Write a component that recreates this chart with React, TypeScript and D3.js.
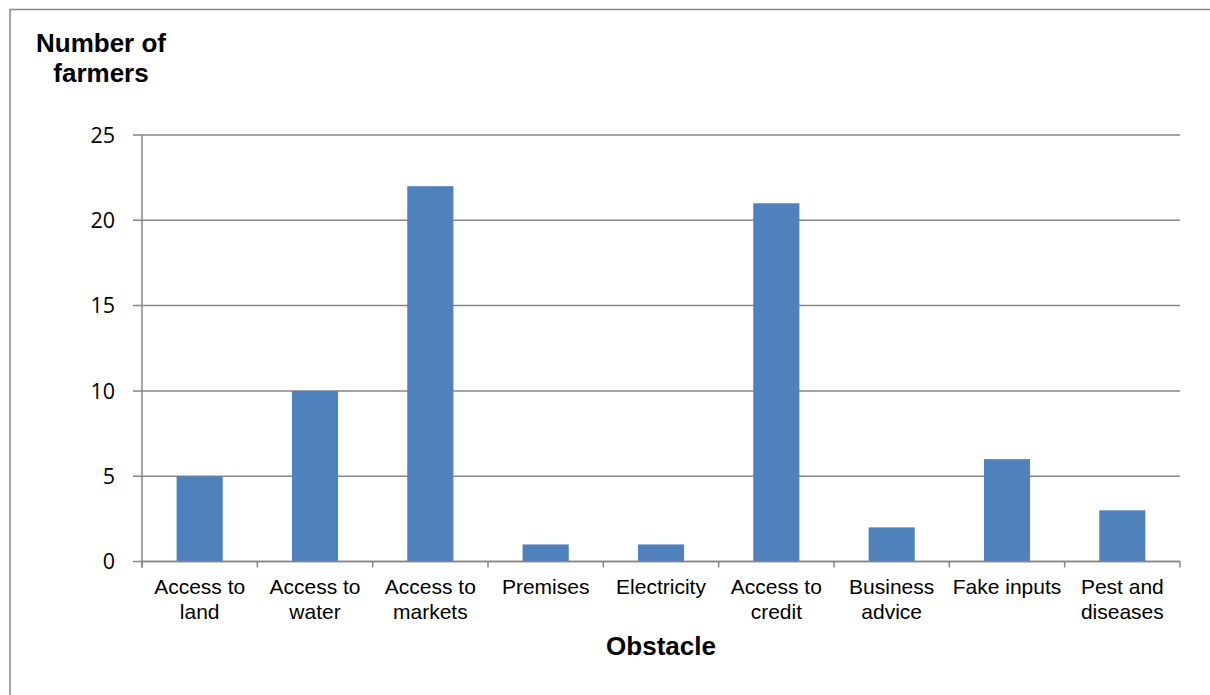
import React from "react";
import * as d3 from "d3";

const categories: string[][] = [
  ["Access to", "land"],
  ["Access to", "water"],
  ["Access to", "markets"],
  ["Premises"],
  ["Electricity"],
  ["Access to", "credit"],
  ["Business", "advice"],
  ["Fake inputs"],
  ["Pest and", "diseases"],
];
const farmers: number[] = [5, 10, 22, 1, 1, 21, 2, 6, 3];
const yTicks: number[] = [0, 5, 10, 15, 20, 25];
const yTitleLines: string[] = ["Number of", "farmers"];
const xTitle = "Obstacle";

const W = 1210;
const H = 695;
const plot = { left: 142, right: 1180, top: 135, bottom: 561.5 };
const AXIS = "#868686";
const BAR = "#4F81BD";
const LABEL_FONT = "'Liberation Sans', Arial, sans-serif";
const NUM_FONT = "'Open Sans', Calibri, sans-serif";

export default function App() {
  const ids = categories.map((_, i) => String(i));
  const x = d3
    .scaleBand<string>()
    .domain(ids)
    .range([plot.left, plot.right])
    .paddingInner(0.6)
    .paddingOuter(0.3);
  const xCell = d3.scaleBand<string>().domain(ids).range([plot.left, plot.right]);
  const y = d3.scaleLinear().domain([0, 25]).range([plot.bottom, plot.top]);

  const boundaries = d3.range(categories.length + 1).map(
    (i) => plot.left + i * xCell.step()
  );

  return (
    <svg
      width={W}
      height={H}
      style={{ position: "absolute", left: 0, top: 0, background: "#fff" }}
    >
      <rect x={10} y={9.5} width={W} height={H} fill="#fff" stroke={AXIS} strokeWidth={1.5} />

      {/* gridlines and y ticks */}
      {yTicks.map((t) => (
        <g key={t}>
          <line
            x1={plot.left - 9}
            x2={plot.right}
            y1={y(t)}
            y2={y(t)}
            stroke={AXIS}
            strokeWidth={1.5}
          />
          <text
            x={115}
            y={y(t)}
            dy="0.36em"
            textAnchor="end"
            fontFamily={NUM_FONT}
            fontSize={21.5}
            fill="#000"
          >
            {t}
          </text>
        </g>
      ))}

      {/* bars */}
      {farmers.map((v, i) => (
        <rect
          key={i}
          x={x(String(i))}
          y={y(v)}
          width={x.bandwidth()}
          height={y(0) - y(v)}
          fill={BAR}
        />
      ))}

      {/* axes */}
      <line x1={plot.left} x2={plot.left} y1={plot.top} y2={plot.bottom + 6} stroke={AXIS} strokeWidth={1.5} />
      <line x1={plot.left} x2={plot.right} y1={plot.bottom} y2={plot.bottom} stroke={AXIS} strokeWidth={1.5} />
      {boundaries.map((bx, i) => (
        <line key={i} x1={bx} x2={bx} y1={plot.bottom} y2={plot.bottom + 6} stroke={AXIS} strokeWidth={1.5} />
      ))}

      {/* category labels */}
      {categories.map((lines, i) => {
        const cx = (xCell(String(i)) as number) + xCell.bandwidth() / 2;
        return (
          <text key={i} textAnchor="middle" fontFamily={LABEL_FONT} fontSize={21} fill="#000">
            {lines.map((l, j) => (
              <tspan key={j} x={cx} y={594 + j * 25}>
                {l}
              </tspan>
            ))}
          </text>
        );
      })}

      {/* axis titles */}
      <text textAnchor="middle" fontFamily={LABEL_FONT} fontSize={26} fontWeight="bold" fill="#000">
        {yTitleLines.map((l, j) => (
          <tspan key={j} x={101} y={52 + j * 29.5}>
            {l}
          </tspan>
        ))}
      </text>
      <text
        x={(plot.left + plot.right) / 2}
        y={655}
        textAnchor="middle"
        fontFamily={LABEL_FONT}
        fontSize={26}
        fontWeight="bold"
        fill="#000"
      >
        {xTitle}
      </text>
    </svg>
  );
}
